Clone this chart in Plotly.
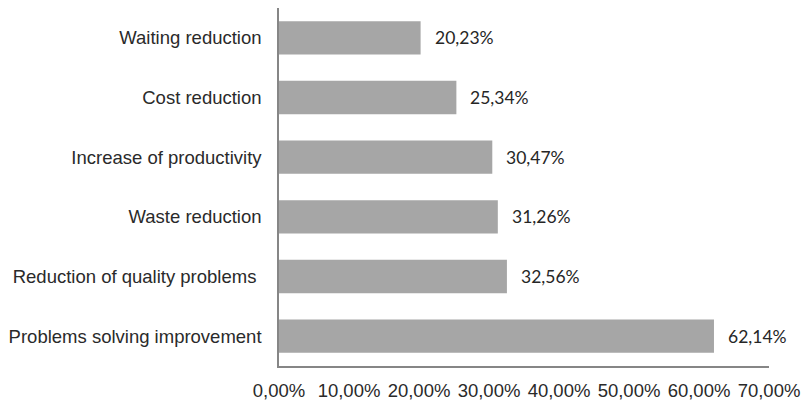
import plotly.graph_objects as go

# Improvement areas (top to bottom) and share of respondents (%)
categories = [
    "Waiting reduction",
    "Cost reduction",
    "Increase of productivity",
    "Waste reduction",
    "Reduction of quality problems ",
    "Problems solving improvement",
]
values = [20.23, 25.34, 30.47, 31.26, 32.56, 62.14]
tick_vals = [0, 10, 20, 30, 40, 50, 60, 70]
tick_text = ["0,00%", "10,00%", "20,00%", "30,00%", "40,00%", "50,00%", "60,00%", "70,00%"]


def pct(v):
    return f"{v:.2f}".replace(".", ",") + "%"


fig = go.Figure(
    go.Bar(
        x=values,
        y=categories,
        orientation="h",
        marker=dict(color="#a6a6a6", line=dict(width=0)),
        hoverinfo="skip",
    )
)

for c, v in zip(categories, values):
    fig.add_annotation(
        x=v, y=c, xref="x", yref="y",
        text=pct(v), showarrow=False,
        xanchor="left", xshift=12,
        font=dict(family="Lato, 'Open Sans', sans-serif", size=17.5, color="#262626"),
    )

fig.update_layout(
    width=808, height=409,
    margin=dict(l=279, r=34, t=8, b=35),
    paper_bgcolor="white", plot_bgcolor="white",
    bargap=0.44,
    showlegend=False,
    font=dict(family="'Liberation Sans', Arial, sans-serif", size=18.5, color="#2a2a2a"),
)
fig.update_xaxes(
    range=[0, 70],
    tickvals=tick_vals, ticktext=tick_text,
    tickfont=dict(size=18.5),
    showgrid=False, zeroline=False,
    showline=True, linecolor="#868686", linewidth=1.5,
    ticks="outside", ticklen=7, tickcolor="rgba(0,0,0,0)",
)
fig.update_yaxes(
    categoryorder="array", categoryarray=categories[::-1],
    tickfont=dict(size=18.5),
    showgrid=False, zeroline=False,
    showline=True, linecolor="#868686", linewidth=1.5,
    ticks="outside", ticklen=12, tickcolor="rgba(0,0,0,0)",
)

fig.write_html("out.html")
